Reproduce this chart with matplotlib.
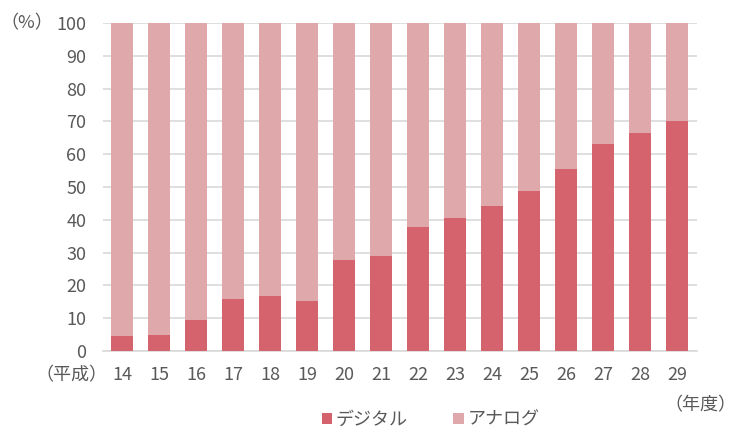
import numpy as np
import matplotlib.pyplot as plt

plt.rcParams['font.family'] = ['Noto Sans CJK JP', 'DejaVu Sans']

years = ['14', '15', '16', '17', '18', '19', '20', '21',
         '22', '23', '24', '25', '26', '27', '28', '29']
digital = [4.6, 4.9, 9.5, 15.9, 16.9, 15.1, 27.7, 29.0,
           37.7, 40.5, 44.1, 48.9, 55.4, 63.1, 66.6, 70.1]
analog = [100 - d for d in digital]

c_digital = '#d4636e'
c_analog = '#dfa9ac'
text_c = '#595959'

fig = plt.figure(figsize=(7.36, 4.32), dpi=100)
ax = fig.add_axes([0.14, 0.1875, 0.807, 0.759])

x = np.arange(len(years))
ax.bar(x, digital, width=0.6, color=c_digital, label='デジタル', zorder=3)
ax.bar(x, analog, width=0.6, bottom=digital, color=c_analog, label='アナログ', zorder=3)

ax.set_ylim(0, 100)
ax.set_xlim(-0.52, 15.54)
ax.set_yticks(range(0, 101, 10))
ax.set_xticks(x)
ax.set_xticklabels(years)
ax.yaxis.grid(True, color='#d9d9d9', linewidth=1.2, zorder=0)
ax.tick_params(axis='both', length=0, labelsize=13, colors=text_c)
ax.tick_params(axis='y', pad=12)
ax.tick_params(axis='x', pad=11)
for side in ['top', 'right', 'left']:
    ax.spines[side].set_visible(False)
ax.spines['bottom'].set_color('#d9d9d9')
ax.spines['bottom'].set_linewidth(1.2)

fig.text(0.0, 0.947, '（%）', fontsize=13, color=text_c, va='center', ha='left')
fig.text(0.048, 0.132, '（平成）', fontsize=13, color=text_c, va='center', ha='left')
fig.text(1.0, 0.062, '（年度）', fontsize=13, color=text_c, va='center', ha='right')

fig.legend(loc='center', bbox_to_anchor=(0.585, 0.028), ncol=2, frameon=False,
           fontsize=13, handlelength=0.6, handleheight=0.6, handletextpad=0.2,
           columnspacing=2.5, labelcolor=text_c, borderpad=0.1)

fig.savefig('out.png', dpi=100)
